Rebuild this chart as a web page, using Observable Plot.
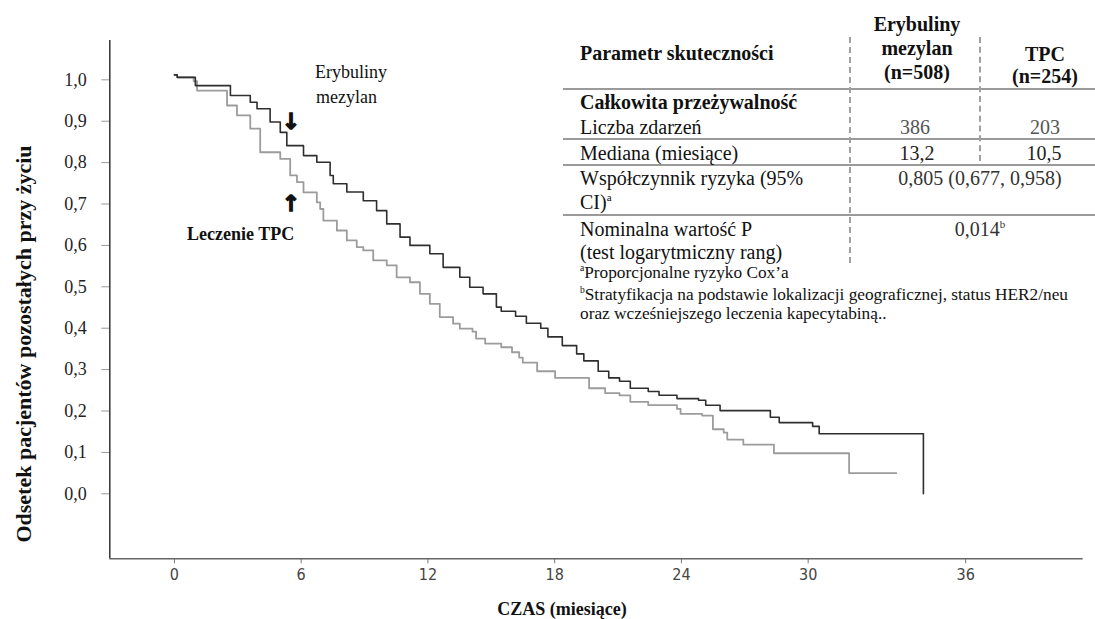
<!DOCTYPE html>
<html>
<head>
<meta charset="utf-8">
<script src="https://cdn.jsdelivr.net/npm/d3@7"></script>
<script src="https://cdn.jsdelivr.net/npm/@observablehq/plot@0.6"></script>
<style>
  body { margin: 0; background: #fff; }
  #wrap { position: relative; width: 1095px; height: 619px; overflow: hidden;
          font-family: "Liberation Serif", "Times New Roman", serif; color: #111; }
  #wrap svg { position: absolute; left: 0; top: 0; }
  .t { position: absolute; white-space: nowrap; line-height: 1; }
  .hr { position: absolute; height: 0; border-top: 2px solid #9a9a9a; }
  .vr { position: absolute; width: 0; border-left: 2px dashed #a0a0a0; }
  sup { font-size: 0.55em; vertical-align: 0.75em; line-height: 0; }
</style>
</head>
<body>
<div id="wrap"></div>
<script>
// ---------------- DATA ----------------
// Kaplan–Meier curves (months, proportion alive)
const eribulinMonths = [0, 0.13, 0.99, 2.65, 3.59, 3.91, 4.53, 5.01, 5.32, 6.11,
  6.74, 7.37, 7.52, 8.16, 8.94, 9.57, 10.05, 10.68, 11.15, 12.09,
  12.72, 13.51, 13.98, 14.61, 15.24, 15.47, 16.15, 16.66, 17.34, 17.68,
  18.36, 19.04, 19.38, 20.06, 20.56, 21.07, 21.58, 22.43, 22.94, 23.79,
  24.81, 25.15, 25.83, 28.21, 28.63, 30.17, 30.42, 34.39, 34.39];
const eribulinSurv = [1.012, 1.006, 0.986, 0.962, 0.946, 0.930, 0.898, 0.873, 0.841, 0.817,
  0.801, 0.769, 0.749, 0.729, 0.708, 0.684, 0.652, 0.620, 0.600, 0.580,
  0.547, 0.523, 0.499, 0.483, 0.451, 0.441, 0.429, 0.412, 0.400, 0.379,
  0.358, 0.338, 0.321, 0.296, 0.280, 0.272, 0.255, 0.247, 0.238, 0.230,
  0.226, 0.214, 0.201, 0.185, 0.172, 0.163, 0.145, 0.145, 0.0];

const tpcMonths = [0, 0.13, 0.91, 1.07, 2.49, 2.96, 3.59, 4.06, 5.01, 5.48,
  5.80, 6.11, 6.74, 6.90, 7.05, 7.69, 8.16, 8.63, 8.94, 9.41,
  10.05, 10.52, 11.15, 11.62, 12.09, 12.56, 13.19, 13.51, 14.11, 14.28,
  14.71, 15.47, 15.98, 16.32, 16.49, 17.17, 18.02, 19.63, 20.39, 21.07,
  21.58, 22.43, 23.79, 23.96, 24.98, 25.49, 26.00, 26.17, 26.93, 28.38,
  31.56, 33.36];
const tpcSurv = [1.012, 1.006, 0.997, 0.974, 0.938, 0.914, 0.882, 0.825, 0.809, 0.769,
  0.753, 0.728, 0.704, 0.688, 0.660, 0.636, 0.612, 0.596, 0.588, 0.564,
  0.552, 0.523, 0.511, 0.483, 0.459, 0.427, 0.411, 0.399, 0.392, 0.375,
  0.363, 0.354, 0.342, 0.329, 0.317, 0.296, 0.280, 0.255, 0.243, 0.238,
  0.222, 0.214, 0.205, 0.193, 0.189, 0.156, 0.148, 0.131, 0.119, 0.098,
  0.050, 0.050];

const xTicks = [0, 6, 12, 18, 24, 30, 36];
const yTicks = [0, 0.1, 0.2, 0.3, 0.4, 0.5, 0.6, 0.7, 0.8, 0.9, 1.0];

const xLabel = "CZAS (miesiące)";
const yLabel = "Odsetek pacjentów pozostałych przy życiu";
const seriesLabelEribulin = ["Erybuliny", "mezylan"];
const seriesLabelTPC = "Leczenie TPC";

// table texts
const tableParamHeader = "Parametr skuteczności";
const colHeaderEribulin = ["Erybuliny", "mezylan", "(n=508)"];
const colHeaderTPC = ["TPC", "(n=254)"];
const sectionLabel = "Całkowita przeżywalność";
const rowEvents = ["Liczba zdarzeń", "386", "203"];
const rowMedian = ["Mediana (miesiące)", "13,2", "10,5"];
const rowHR = ["Współczynnik ryzyka (95%", "CI)<sup>a</sup>", "0,805 (0,677, 0,958)"];
const rowP = ["Nominalna wartość P", "(test logarytmiczny rang)", "0,014<sup>b</sup>"];
const footnotes = [
  "<sup>a</sup>Proporcjonalne ryzyko Cox’a",
  "<sup>b</sup>Stratyfikacja na podstawie lokalizacji geograficznej, status HER2/neu",
  "oraz wcześniejszego leczenia kapecytabiną.."
];

// ---------------- CHART ----------------
// The original axis is drawn wider after 30 months (30→36 spans more than 0→6).
const axisBreak = 30, stretchAfter = 1.2427;
const warp = t => t <= axisBreak ? t : axisBreak + (t - axisBreak) * stretchAfter;
const unwarp = v => v <= axisBreak ? v : axisBreak + (v - axisBreak) / stretchAfter;

const eribulin = eribulinMonths.map((t, i) => ({t, s: eribulinSurv[i]}));
const tpc = tpcMonths.map((t, i) => ({t, s: tpcSurv[i]}));

const xDomain = [-3.06, 43.02];
const yDomain = [-0.157, 1.095];

const chart = Plot.plot({
  width: 1095,
  height: 619,
  marginLeft: 109.3,
  marginRight: 12.3,
  marginTop: 40,
  marginBottom: 60.7,
  style: {background: "transparent", fontFamily: "'Liberation Serif', serif"},
  x: {domain: xDomain},
  y: {domain: yDomain},
  marks: [
    Plot.axisX(xTicks.map(warp), {tickSize: 5, tickPadding: 5, stroke: "#777", fill: "#444",
      tickFormat: v => String(Math.round(unwarp(v))),
      fontSize: 16, fontFamily: "'Liberation Sans Narrow', 'DejaVu Sans Condensed', sans-serif", label: null}),
    Plot.axisY({ticks: yTicks, tickSize: 8, tickPadding: 15, stroke: "#999", fill: "#222",
      tickFormat: d => d.toFixed(1).replace(".", ","),
      fontSize: 18, fontFamily: "'Liberation Serif', serif", label: null}),
    Plot.ruleX([xDomain[0]], {y1: yDomain[0], y2: yDomain[1], stroke: "#333", strokeWidth: 1.5}),
    Plot.ruleY([yDomain[0]], {x1: xDomain[0], x2: xDomain[1], stroke: "#666", strokeWidth: 1.5}),
    Plot.line(tpc, {x: d => warp(d.t), y: "s", curve: "step-after", stroke: "#9c9c9c", strokeWidth: 1.8}),
    Plot.line(eribulin, {x: d => warp(d.t), y: "s", curve: "step-after", stroke: "#2e2e2e", strokeWidth: 1.6})
  ]
});

const wrap = document.getElementById("wrap");
wrap.appendChild(chart);

// ---------------- TEXT OVERLAYS ----------------
function put(html, x, base, size, opt = {}) {
  const d = document.createElement("div");
  d.className = "t";
  d.innerHTML = html;
  d.style.fontSize = size + "px";
  d.style.left = x + "px";
  d.style.top = (base - 0.8375 * size) + "px";
  if (opt.bold) d.style.fontWeight = "bold";
  if (opt.color) d.style.color = opt.color;
  if (opt.family) d.style.fontFamily = opt.family;
  if (opt.stroke) d.style.webkitTextStroke = opt.stroke;
  if (opt.anchor === "middle") d.style.transform = "translateX(-50%)";
  wrap.appendChild(d);
  return d;
}
function hr(x1, x2, y) {
  const d = document.createElement("div");
  d.className = "hr";
  d.style.left = x1 + "px"; d.style.width = (x2 - x1) + "px"; d.style.top = (y - 1) + "px";
  wrap.appendChild(d);
}
function vr(x, y1, y2) {
  const d = document.createElement("div");
  d.className = "vr";
  d.style.left = (x - 1) + "px"; d.style.top = y1 + "px"; d.style.height = (y2 - y1) + "px";
  wrap.appendChild(d);
}

// axis titles
put(xLabel, 562, 615, 18, {bold: true, anchor: "middle"});
const yl = document.createElement("div");
yl.className = "t";
yl.textContent = yLabel;
Object.assign(yl.style, {fontSize: "22px", fontWeight: "bold", left: "24px", top: "344px",
  transform: "translate(-50%, -50%) rotate(-90deg)"});
wrap.appendChild(yl);

// series annotations
put(seriesLabelEribulin[0], 315, 78, 18);
put(seriesLabelEribulin[1], 316, 103, 18);
put("↓", 291, 129, 22, {bold: true, anchor: "middle", family: "'DejaVu Sans', sans-serif", stroke: "1.3px #111"});
put("↑", 291, 211, 22, {bold: true, anchor: "middle", family: "'DejaVu Sans', sans-serif", stroke: "1.3px #111"});
put(seriesLabelTPC, 187, 240, 18, {bold: true});

// table
const c0 = 580, c1 = 917, c2 = 1045, c12 = 980, fs = 20;
hr(563, 1095, 89.4); hr(563, 1095, 139.2); hr(563, 1095, 165.2); hr(563, 1095, 215);
vr(850, 37, 263);
vr(980, 37, 161);

put(tableParamHeader, c0, 60, fs, {bold: true});
colHeaderEribulin.forEach((s, i) => put(s, c1, 31 + i * 24, fs, {bold: true, anchor: "middle"}));
colHeaderTPC.forEach((s, i) => put(s, c2, 61 + i * 22, fs, {bold: true, anchor: "middle"}));
put(sectionLabel, c0, 108.5, fs, {bold: true});
put(rowEvents[0], c0, 134, fs);
put(rowEvents[1], 915, 134, fs, {anchor: "middle", color: "#555"});
put(rowEvents[2], c2, 134, fs, {anchor: "middle", color: "#555"});
put(rowMedian[0], c0, 160, fs);
put(rowMedian[1], c1, 160, fs, {anchor: "middle", color: "#222"});
put(rowMedian[2], 1044, 160, fs, {anchor: "middle", color: "#222"});
put(rowHR[0], c0, 184.5, fs);
put(rowHR[1], c0, 209, fs);
put(rowHR[2], c12, 184.5, fs, {anchor: "middle", color: "#333"});
put(rowP[0], c0, 235.5, fs);
put(rowP[1], c0, 259, fs);
put(rowP[2], c12, 235.5, fs, {anchor: "middle", color: "#333"});
footnotes.forEach((s, i) => put(s, c0, [278, 300, 319.5][i], 17.3));
</script>
</body>
</html>
